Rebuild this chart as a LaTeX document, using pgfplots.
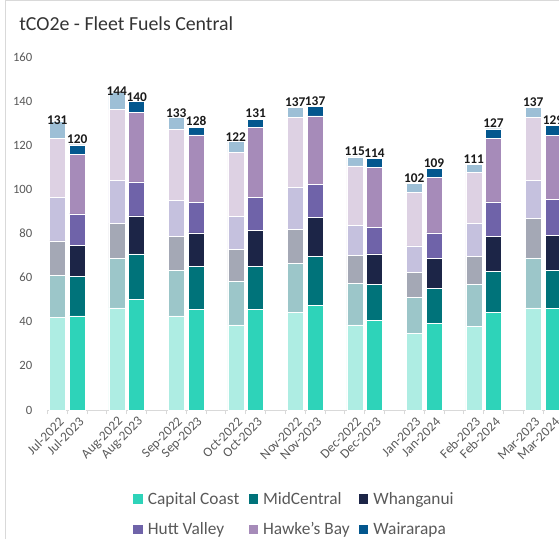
\documentclass[border=0pt]{standalone}
\usepackage{fontspec}
\setmainfont{Carlito}
\usepackage{pgfplots}
\pgfplotsset{compat=1.18}
\usepackage{pgfplotstable}

\definecolor{ccD}{HTML}{2ED3B9}
\definecolor{ccL}{HTML}{AEEDE3}
\definecolor{mcD}{HTML}{00737A}
\definecolor{mcL}{HTML}{9CC6C9}
\definecolor{whD}{HTML}{1C2547}
\definecolor{whL}{HTML}{A4A8B5}
\definecolor{hvD}{HTML}{6F63A9}
\definecolor{hvL}{HTML}{C5C1DE}
\definecolor{hbD}{HTML}{A68BB9}
\definecolor{hbL}{HTML}{DDD1E3}
\definecolor{waD}{HTML}{03578E}
\definecolor{waL}{HTML}{9DBFD6}
\definecolor{txt}{HTML}{595959}
\definecolor{frame}{HTML}{D9D9D9}

% previous year (2022/23)
\pgfplotstableread{
x  cc   mc   wh   hv   hb   wa  lbl
0  42.0 19.1 15.6 19.5 26.8 8.0 131
3  46.3 22.4 16.0 19.5 32.0 8.0 144
6  42.7 20.7 15.2 16.5 32.0 5.7 133
9  38.6 19.8 14.4 15.0 29.0 5.0 122
12 44.4 22.0 15.6 18.8 32.0 4.4 137
15 38.6 18.9 12.5 13.6 27.0 4.1 115
18 34.9 16.0 11.6 11.9 24.3 3.9 102
21 38.0 18.8 12.9 15.0 22.9 3.6 111
24 46.3 22.7 17.8 17.4 28.5 4.5 137
}\prevyear

% current year (2023/24)
\pgfplotstableread{
x  cc   mc   wh   hv   hb   wa  lbl
1  42.7 18.0 14.0 14.2 26.9 4.4 120
4  50.0 20.8 17.2 15.4 31.5 5.0 140
7  45.6 19.5 15.2 13.7 30.7 3.3 128
10 45.6 19.5 16.4 14.7 31.8 3.6 131
13 47.5 22.2 17.5 15.1 31.0 4.4 137
16 40.6 16.2 14.0 12.1 27.1 4.0 114
19 39.2 16.0 13.5 11.6 25.1 4.2 109
22 44.4 18.4 15.8 15.7 28.9 4.2 127
25 46.0 17.2 15.8 16.4 29.0 4.5 129
}\curyear

\pgfplotsset{
  fleet/.style={
    scale only axis, width=386.7pt, height=264.75pt,
    anchor=south west, at={(35.55pt,96.75pt)},
    xmin=-0.5, xmax=25.5, ymin=0, ymax=160,
    ybar stacked, bar width=12pt,
    every axis plot/.append style={draw=white, line width=0.4pt},
  },
  totals/.style={
    nodes near coords, point meta=explicit symbolic,
    every node near coord/.append style={font=\fontsize{10}{12}\selectfont\bfseries,
      text=black!90, fill=none, draw=none, anchor=south, inner sep=2.5pt, yshift=1.5pt},
  },
}

\begin{document}
\begin{tikzpicture}
\draw[frame, line width=0.75pt] (3.9pt,0pt) -- (3.9pt,403.5pt) -- (420pt,403.5pt);

\begin{axis}[fleet,
    axis x line*=bottom, axis y line*=left,
    y axis line style={draw=none},
    x axis line style={draw=frame, line width=0.75pt},
    ytick={0,20,...,160}, ytick style={draw=none},
    xtick={0,1,3,4,6,7,9,10,12,13,15,16,18,19,21,22,24,25},
    xticklabels={Jul-2022,Jul-2023,Aug-2022,Aug-2023,Sep-2022,Sep-2023,
      Oct-2022,Oct-2023,Nov-2022,Nov-2023,Dec-2022,Dec-2023,
      Jan-2023,Jan-2024,Feb-2023,Feb-2024,Mar-2023,Mar-2024},
    major x tick style={draw=none},
    minor xtick={-0.5,0.5,...,25.5},
    minor x tick style={draw=frame, line width=0.75pt},
    tick align=outside, minor tick length=3pt,
    /pgf/number format/assume math mode=true,
    yticklabel style={font=\fontsize{9.5}{11}\selectfont, text=txt, xshift=-3.5pt},
    xticklabel style={font=\fontsize{10}{12}\selectfont, text=txt,
      rotate=45, anchor=east, xshift=3.5pt, yshift=-4.5pt},
  ]
  \addplot[fill=ccL] table[x=x, y=cc] {\prevyear};
  \addplot[fill=mcL] table[x=x, y=mc] {\prevyear};
  \addplot[fill=whL] table[x=x, y=wh] {\prevyear};
  \addplot[fill=hvL] table[x=x, y=hv] {\prevyear};
  \addplot[fill=hbL] table[x=x, y=hb] {\prevyear};
  \addplot[fill=waL, totals] table[x=x, y=wa, meta=lbl] {\prevyear};
\end{axis}

\begin{axis}[fleet, hide axis,
    legend columns=3, legend cell align=left,
    legend style={at={(0.48,-0.296)}, anchor=center, draw=none, fill=none,
      font=\fontsize{13}{15}\selectfont, text=txt,
      row sep=8.5pt,
      /tikz/every even column/.append style={column sep=5pt},
      /tikz/every odd column/.append style={column sep=2pt}},
    legend image code/.code={\fill[#1, draw=none] (0pt,-3.4pt) rectangle (6.8pt,3.6pt);},
  ]
  \addplot[fill=ccD] table[x=x, y=cc] {\curyear};
  \addlegendentry{Capital Coast}
  \addplot[fill=mcD] table[x=x, y=mc] {\curyear};
  \addlegendentry{MidCentral}
  \addplot[fill=whD] table[x=x, y=wh] {\curyear};
  \addlegendentry{Whanganui}
  \addplot[fill=hvD] table[x=x, y=hv] {\curyear};
  \addlegendentry{Hutt Valley}
  \addplot[fill=hbD] table[x=x, y=hb] {\curyear};
  \addlegendentry{Hawke's Bay}
  \addplot[fill=waD, totals] table[x=x, y=wa, meta=lbl] {\curyear};
  \addlegendentry{Wairarapa}
\end{axis}

\node[anchor=base west, font=\fontsize{14.9}{17}\selectfont, text=black!80, inner sep=0pt]
  at (14.25pt,381.2pt) {tCO2e - Fleet Fuels Central};

\pgfresetboundingbox
\path[use as bounding box] (0pt,0pt) rectangle (419.25pt,404.25pt);
\end{tikzpicture}
\end{document}
